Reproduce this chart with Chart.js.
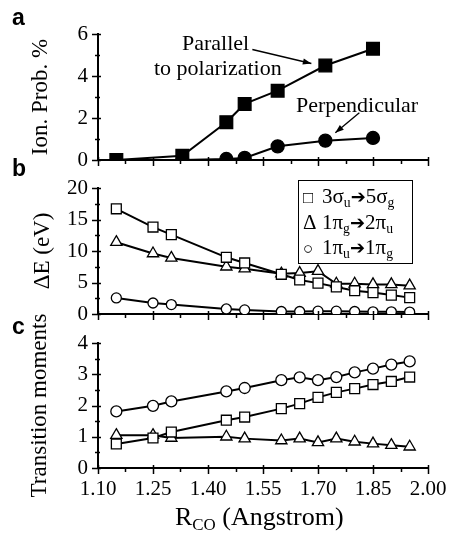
<!DOCTYPE html>
<html>
<head>
<meta charset="utf-8">
<script src="https://cdn.jsdelivr.net/npm/chart.js@4.4.0/dist/chart.umd.min.js"></script>
<style>
    html, body { margin: 0; padding: 0; background: #fff; }
    #wrap { position: relative; width: 450px; height: 534px; overflow: hidden; font-family: "Liberation Serif", "Times New Roman", serif; color: #000; }
    canvas { position: absolute; left: 0; }
    .txt { position: absolute; white-space: nowrap; line-height: 1; }
    .letter { font-family: "Liberation Sans", Arial, sans-serif; font-weight: bold; font-size: 23px; }
    .legend { position: absolute; left: 298px; top: 180px; width: 113px; height: 82px; border: 1px solid #000; background: #fff; }
    .legend div { position: absolute; left: 4px; font-size: 21px; white-space: nowrap; line-height: 1; }
    .legend .mk { display: inline-block; width: 19px; font-size: 17px; }
    .legend .mk.tri { font-size: 21px; }
    sub { font-size: 65%; vertical-align: -0.3em; line-height: 0; }
    .arr { font-family: "DejaVu Sans", sans-serif; font-size: 18px; }
</style>
</head>
<body>
<div id="wrap">
    <canvas id="chartA" width="450" height="175" style="top:0"></canvas>
    <canvas id="chartB" width="450" height="155" style="top:175px"></canvas>
    <canvas id="chartC" width="450" height="234" style="top:300px"></canvas>

    <div class="txt letter" style="left:12px; top:6px;">a</div>
    <div class="txt letter" style="left:12px; top:157px;">b</div>
    <div class="txt letter" style="left:12px; top:315px;">c</div>

    <div class="txt" style="left:182px; top:32px; font-size:22px;">Parallel</div>
    <div class="txt" style="left:154px; top:57px; font-size:22px;">to polarization</div>
    <div class="txt" style="left:296px; top:94px; font-size:22px;">Perpendicular</div>

    <div class="legend">
        <div style="top:5px;"><span class="mk">□</span>3σ<sub>u</sub><span class="arr">➔</span>5σ<sub>g</sub></div>
        <div style="top:31px;"><span class="mk tri">Δ</span>1π<sub>g</sub><span class="arr">➔</span>2π<sub>u</sub></div>
        <div style="top:56px;"><span class="mk">○</span>1π<sub>u</sub><span class="arr">➔</span>1π<sub>g</sub></div>
    </div>

    <div class="txt" style="left:175px; top:504px; font-size:26px;">R<sub>CO</sub> (Angstrom)</div>
</div>

<script>
// panel a: ionization probability (%)
const rParallel = [1.15, 1.33, 1.45, 1.50, 1.59, 1.72, 1.85];
const ionParallel = [0, 0.2, 1.8, 2.67, 3.3, 4.5, 5.3];
const rPerp = [1.33, 1.45, 1.50, 1.59, 1.72, 1.85];
const ionPerp = [0, 0.05, 0.1, 0.65, 0.92, 1.05];

// panels b and c share the bond lengths
const rCO = [1.15, 1.25, 1.30, 1.45, 1.50, 1.60, 1.65, 1.70, 1.75, 1.80, 1.85, 1.90, 1.95];

// panel b: delta E (eV)
const dESigma = [16.7, 13.8, 12.6, 9.0, 8.1, 6.3, 5.4, 4.9, 4.3, 3.7, 3.4, 3.0, 2.6];
const dEPiG = [11.4, 9.6, 8.9, 7.5, 7.2, 6.4, 6.5, 6.8, 4.8, 4.8, 4.7, 4.7, 4.5];
const dEPiU = [2.55, 1.75, 1.5, 0.8, 0.65, 0.4, 0.4, 0.45, 0.45, 0.4, 0.35, 0.35, 0.3];

// panel c: transition moments
const tmSigma = [0.77, 0.96, 1.15, 1.53, 1.63, 1.9, 2.06, 2.26, 2.42, 2.54, 2.67, 2.77, 2.91];
const tmPiG = [1.05, 1.05, 0.96, 1.0, 0.94, 0.88, 0.94, 0.82, 0.94, 0.84, 0.78, 0.73, 0.68];
const tmPiU = [1.81, 1.99, 2.13, 2.45, 2.56, 2.81, 2.90, 2.81, 2.91, 3.06, 3.18, 3.31, 3.41];

const xTicks = [1.10, 1.25, 1.40, 1.55, 1.70, 1.85, 2.00];

const serif = '"Liberation Serif", "Times New Roman", serif';

function pts(xs, ys) {
    return xs.map((x, i) => ({ x: x, y: ys[i] }));
}

function series(xs, ys, style, radius, filled) {
    return {
        data: pts(xs, ys),
        borderColor: '#000',
        borderWidth: 2,
        pointStyle: style,
        pointRadius: radius,
        pointBorderWidth: 1.3,
        pointBorderColor: '#000',
        pointBackgroundColor: filled ? '#000' : '#fff',
        showLine: true,
        tension: 0
    };
}

// draws the small crossing tick marks seen on the original axes
const tickMarks = {
    id: 'tickMarks',
    afterDraw(chart) {
        const ctx = chart.ctx;
        const area = chart.chartArea;
        const xs = chart.scales.x;
        const ys = chart.scales.y;
        ctx.save();
        ctx.strokeStyle = '#000';
        ctx.lineWidth = 1.5;
        ctx.beginPath();
        const yStep = ys.ticks.length > 1 ? ys.ticks[1].value - ys.ticks[0].value : 1;
        ys.ticks.forEach((t, i) => {
            const py = Math.round(ys.getPixelForValue(t.value)) + 0.5;
            ctx.moveTo(area.left - 6, py);
            ctx.lineTo(area.left + 3, py);
            if (i < ys.ticks.length - 1) {
                const my = Math.round(ys.getPixelForValue(t.value + yStep / 2)) + 0.5;
                ctx.moveTo(area.left - 3, my);
                ctx.lineTo(area.left + 2, my);
            }
        });
        xTicks.forEach((v, i) => {
            const px = Math.round(xs.getPixelForValue(v)) + 0.5;
            ctx.moveTo(px, area.bottom - 3);
            ctx.lineTo(px, area.bottom + 6);
            if (i < xTicks.length - 1) {
                const mx = Math.round(xs.getPixelForValue((v + xTicks[i + 1]) / 2)) + 0.5;
                ctx.moveTo(mx, area.bottom);
                ctx.lineTo(mx, area.bottom + 4);
            }
        });
        ctx.stroke();

        // arrows in panel a point at the curves
        if (chart.canvas.id === 'chartA') {
            const arrow = (x1, y1, x2, y2) => {
                const a = Math.atan2(y2 - y1, x2 - x1);
                ctx.beginPath();
                ctx.lineWidth = 1.3;
                ctx.moveTo(x1, y1);
                ctx.lineTo(x2, y2);
                ctx.stroke();
                ctx.beginPath();
                ctx.moveTo(x2, y2);
                ctx.lineTo(x2 - 9 * Math.cos(a - 0.35), y2 - 9 * Math.sin(a - 0.35));
                ctx.lineTo(x2 - 9 * Math.cos(a + 0.35), y2 - 9 * Math.sin(a + 0.35));
                ctx.closePath();
                ctx.fillStyle = '#000';
                ctx.fill();
            };
            const p = { x: xs.getPixelForValue(1.72), y: ys.getPixelForValue(4.5) };
            arrow(p.x - 73, p.y - 16, p.x - 14, p.y - 2);
            const q = { x: xs.getPixelForValue(1.72), y: ys.getPixelForValue(0.92) };
            arrow(q.x + 34, q.y - 28, q.x + 10, q.y - 8);
        }
        ctx.restore();
    }
};

function makeChart(id, datasets, opt) {
    return new Chart(document.getElementById(id), {
        type: 'scatter',
        data: { datasets: datasets },
        options: {
            responsive: false,
            animation: false,
            events: [],
            layout: { padding: { left: 0, right: 22, top: opt.top, bottom: 0 } },
            plugins: { legend: { display: false }, tooltip: { enabled: false } },
            scales: {
                x: {
                    type: 'linear',
                    min: 1.10,
                    max: 2.00,
                    afterBuildTicks: s => { s.ticks = xTicks.map(v => ({ value: v })); },
                    ticks: {
                        display: opt.showX,
                        callback: v => v.toFixed(2),
                        color: '#000',
                        font: { family: serif, size: 21 },
                        padding: 9,
                        maxRotation: 0
                    },
                    grid: { display: false, drawTicks: false },
                    border: { display: true, color: '#000', width: 2 },
                    afterFit: s => {
                        s.height = opt.xHeight;
                        s.paddingLeft = 0;
                        s.paddingRight = 0;
                    }
                },
                y: {
                    min: 0,
                    max: opt.yMax,
                    ticks: {
                        stepSize: opt.yStep,
                        color: '#000',
                        font: { family: serif, size: 21 },
                        padding: 10
                    },
                    grid: { display: false, drawTicks: false },
                    border: { display: true, color: '#000', width: 2 },
                    title: {
                        display: true,
                        text: opt.yTitle,
                        color: '#000',
                        font: { family: serif, size: 23 },
                        padding: { top: opt.titlePad, bottom: 0 }
                    },
                    afterFit: s => {
                        s.width = 98;
                        s.paddingTop = 0;
                        s.paddingBottom = 0;
                    }
                }
            }
        },
        plugins: [tickMarks]
    });
}

makeChart('chartA', [
    series(rParallel, ionParallel, 'rect', 9, true),
    series(rPerp, ionPerp, 'circle', 6.5, true)
], { top: 34, xHeight: 15, showX: false, yMax: 6, yStep: 2, yTitle: 'Ion. Prob. %', titlePad: 27 });

makeChart('chartB', [
    series(rCO, dESigma, 'rect', 7, false),
    series(rCO, dEPiG, 'triangle', 6.5, false),
    series(rCO, dEPiU, 'circle', 5, false)
], { top: 13, xHeight: 16, showX: false, yMax: 20, yStep: 5, yTitle: 'ΔE (eV)', titlePad: 29 });

makeChart('chartC', [
    series(rCO, tmPiU, 'circle', 5.5, false),
    series(rCO, tmSigma, 'rect', 7, false),
    series(rCO, tmPiG, 'triangle', 6.5, false)
], { top: 43, xHeight: 66, showX: true, yMax: 4, yStep: 1, yTitle: 'Transition moments', titlePad: 26 });
</script>
</body>
</html>
